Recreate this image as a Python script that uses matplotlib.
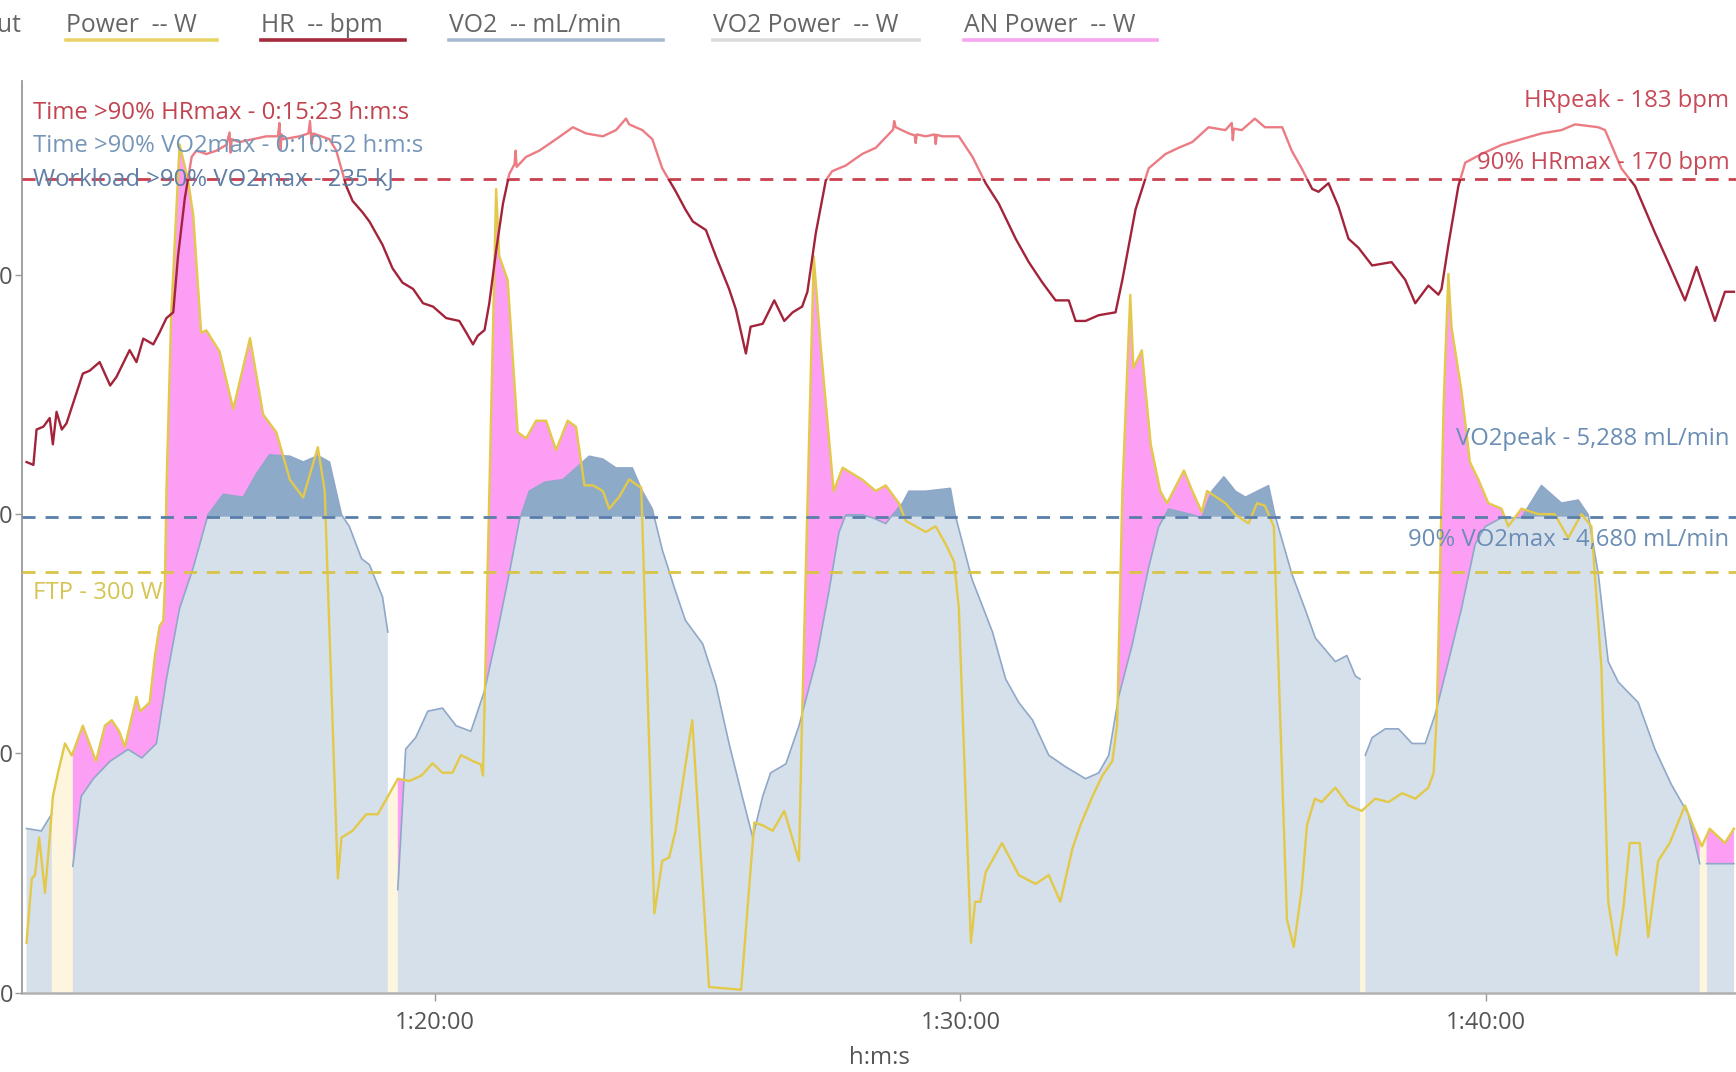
import numpy as np
import matplotlib
matplotlib.use("Agg")
import matplotlib.pyplot as plt
from matplotlib.patches import Rectangle
from matplotlib.lines import Line2D
from matplotlib.ticker import FuncFormatter, MultipleLocator
import matplotlib.transforms as mtransforms

plt.rcParams['font.family'] = ['Open Sans', 'DejaVu Sans']

# ---------------- data (time in minutes of the ride) ----------------
hr_time = [72.24, 72.37, 72.43, 72.56, 72.68, 72.74, 72.81, 72.91, 73.00, 73.31, 73.44, 73.63,
           73.83, 73.95, 74.20, 74.33, 74.46, 74.65, 74.77, 74.90, 75.03, 75.12, 75.25, 75.38,
           75.47, 75.66, 75.85, 76.04, 76.10, 76.12, 76.14, 76.29, 76.55, 76.80, 77.02, 77.05,
           77.07, 77.09, 77.12, 77.43, 77.60, 77.63, 77.66, 77.69, 78.00, 78.13,
           78.32, 78.44, 78.63, 78.76, 79.01, 79.20, 79.39, 79.59, 79.78, 79.97, 80.22, 80.47,
           80.60, 80.73, 80.82, 80.95, 81.04, 81.17, 81.30, 81.42, 81.52, 81.54, 81.56, 81.74,
           81.99, 82.31, 82.63, 82.88, 83.20, 83.45, 83.64, 83.70, 83.95, 84.14, 84.33, 84.59,
           84.77, 84.91, 85.16, 85.35, 85.60, 85.73, 85.92, 86.01, 86.24, 86.46, 86.65, 86.81,
           86.99, 87.09, 87.25, 87.44, 87.56, 87.82, 88.13, 88.39, 88.72, 88.74, 88.77, 89.02,
           89.13, 89.15, 89.17, 89.34, 89.51, 89.53, 89.55, 89.66, 89.97, 90.23,
           90.48, 90.73, 91.05, 91.30, 91.56, 91.81, 92.06, 92.19, 92.38, 92.63, 92.95, 93.08,
           93.33, 93.58, 93.90, 94.15, 94.41, 94.72, 95.04, 95.16, 95.18, 95.20, 95.35, 95.60,
           95.79, 96.12, 96.30, 96.49, 96.69, 96.81, 97.00, 97.19, 97.38, 97.57, 97.83, 98.20,
           98.46, 98.65, 98.90, 99.09, 99.15, 99.28, 99.47, 99.60, 99.91, 100.29, 100.67,
           101.05, 101.43, 101.69, 102.13, 102.26, 102.57, 102.83, 103.21, 103.46, 103.78,
           104.00, 104.35, 104.54, 104.71]
hr_bpm = [110.9, 110.3, 117.7, 118.3, 120.1, 114.6, 121.4, 117.7, 119.0, 129.4, 130.0, 131.8,
          126.9, 128.7, 134.3, 131.8, 136.7, 135.5, 138.0, 141.0, 142.2, 153.9, 166.1, 174.7,
          176.0, 175.3, 176.0, 177.2, 179.8, 175.6, 178.4, 177.8, 178.4, 179.0, 179.0, 181.8,
          176.2, 179.4, 178.4, 179.0, 179.6, 182.2, 177.4, 179.6, 178.4, 176.0,
          168.6, 165.5, 163.1, 161.2, 156.3, 151.4, 148.4, 147.1, 144.1, 143.4, 141.0, 140.4,
          138.0, 135.5, 137.3, 138.5, 144.1, 155.1, 164.9, 171.1, 173.2, 176.0, 172.6, 174.7,
          176.0, 178.4, 180.9, 179.6, 179.0, 180.3, 182.7, 181.5, 180.3, 178.4, 172.3, 167.4,
          163.7, 161.2, 159.4, 153.9, 147.1, 142.8, 133.6, 139.2, 139.8, 144.7, 140.4, 142.2,
          143.4, 146.5, 158.8, 169.8, 171.7, 172.9, 175.3, 176.6, 180.4, 182.2, 180.9, 179.6,
          179.2, 177.6, 179.4, 179.0, 179.4, 177.4, 179.3, 179.0, 179.0, 174.7,
          169.2, 164.9, 157.6, 152.7, 148.4, 144.7, 144.7, 140.4, 140.4, 141.6, 142.2, 149.0,
          163.7, 172.3, 175.3, 176.6, 177.8, 180.9, 180.3, 181.8, 178.2, 180.6, 180.3, 182.7,
          180.9, 180.9, 176.0, 172.3, 168.0, 167.4, 169.2, 164.3, 157.6, 155.7, 152.0, 152.7,
          149.0, 144.1, 147.8, 145.9, 147.1, 156.3, 168.6, 173.5, 175.3, 177.2, 178.4,
          179.6, 180.3, 181.5, 180.9, 180.3, 172.3, 168.6, 158.8, 152.7, 144.7,
          151.7, 140.4, 146.5, 146.5]

power_time = [72.24, 72.34, 72.40, 72.48, 72.59, 72.68, 72.74, 72.84, 72.97, 73.10, 73.31, 73.56,
              73.73, 73.86, 74.00, 74.11, 74.33, 74.40, 74.58, 74.68, 74.77, 74.84, 74.87, 74.90,
              74.99, 75.15, 75.31, 75.41, 75.56, 75.66, 75.91, 76.17, 76.49, 76.74, 76.99, 77.25,
              77.50, 77.78, 77.91, 78.16, 78.23, 78.44, 78.70, 78.92, 79.11, 79.30, 79.52, 79.75,
              79.96, 80.15, 80.34, 80.50, 80.73, 80.88, 80.92, 81.17, 81.23, 81.39, 81.58, 81.74,
              81.93, 82.12, 82.31, 82.53, 82.69, 82.85, 83.01, 83.20, 83.32, 83.51, 83.70, 83.86,
              83.93, 84.18, 84.33, 84.46, 84.58, 84.90, 85.22, 85.83, 86.08, 86.24, 86.43, 86.65,
              86.93, 86.99, 87.21, 87.34, 87.59, 87.76, 88.13, 88.39, 88.58, 88.83, 88.96, 89.15,
              89.34, 89.53, 89.72, 89.88, 89.97, 90.09, 90.20, 90.28, 90.38, 90.48, 90.79, 91.11,
              91.43, 91.68, 91.90, 92.13, 92.28, 92.51, 92.70, 92.89, 92.98, 93.08, 93.23, 93.29,
              93.45, 93.62, 93.80, 93.93, 94.25, 94.41, 94.59, 94.69, 95.04, 95.23, 95.48, 95.64,
              95.79, 95.96, 96.05, 96.21, 96.34, 96.49, 96.59, 96.74, 96.87, 97.13, 97.38, 97.63,
              97.89, 98.14, 98.40, 98.65, 98.90, 99.00, 99.06, 99.19, 99.28, 99.34, 99.53, 99.69,
              99.85, 100.04, 100.29, 100.42, 100.67, 100.99, 101.30, 101.56, 101.81, 102.00, 102.19,
              102.32, 102.48, 102.61, 102.73, 102.92, 103.08, 103.27, 103.49, 103.78, 103.93,
              104.10, 104.25, 104.54, 104.71]
power_w = [35.5, 81.3, 83.7, 110.5, 71.1, 110.5, 139.7, 157.1, 177.6, 168.9, 190.3, 165.0,
           190.3, 194.2, 186.3, 175.3, 210.8, 200.5, 206.8, 240.0, 261.3, 265.3, 290.5, 357.6,
           483.2, 604.7, 579.5, 554.2, 470.5, 472.1, 457.1, 416.1, 466.6, 412.1, 399.5, 365.5,
           352.9, 388.8, 357.6, 81.3, 110.5, 115.3, 127.1, 127.1, 139.7, 152.4, 150.8, 154.7,
           163.4, 156.7, 156.7, 169.3, 165.0, 162.6, 154.7, 572.9, 525.0, 508.0, 399.5, 395.1,
           407.7, 407.7, 386.8, 407.7, 403.4, 361.6, 361.6, 357.6, 345.0, 353.3, 365.8, 361.6,
           360.0, 56.4, 93.9, 96.3, 114.9, 194.2, 3.9, 2.0, 121.2, 119.2, 115.3, 129.5,
           93.9, 198.6, 525.0, 462.1, 357.6, 374.2, 365.8, 357.6, 361.6, 348.9, 336.3, 332.4,
           328.4, 332.4, 319.7, 307.1, 273.9, 148.4, 35.5, 64.7, 64.7, 85.7, 106.6, 83.7,
           77.4, 83.7, 64.7, 102.6, 119.2, 139.7, 154.7, 165.0, 190.3, 357.6, 497.4, 445.3,
           457.9, 390.8, 357.6, 348.9, 372.2, 357.6, 342.6, 357.6, 348.9, 340.7, 334.5, 348.9,
           347.1, 332.4, 232.1, 52.1, 32.4, 73.4, 119.2, 138.2, 135.8, 146.1, 133.4, 129.5,
           138.2, 135.8, 142.1, 138.2, 146.1, 156.7, 198.6, 420.0, 512.4, 474.5, 428.7, 378.2,
           365.8, 348.9, 345.0, 332.4, 345.0, 341.1, 341.1, 324.1, 341.1, 332.4, 232.1,
           64.7, 26.8, 60.8, 106.6, 106.6, 39.5, 93.9, 106.6, 133.4, 119.2,
           104.2, 116.8, 106.6, 116.8]

nan = float('nan')
vo2_time = [72.24, 72.52, 72.72, 72.92, 73.12, 73.28, 73.51, 73.83, 74.17, 74.43, 74.71, 74.90,
            75.15, 75.41, 75.69, 75.98, 76.36, 76.61, 76.86, 77.25, 77.50, 77.78, 78.00, 78.23,
            78.38, 78.61, 78.76, 79.01, 79.11, 79.20, 79.30, 79.45, 79.64, 79.87, 80.15, 80.41,
            80.69, 80.95, 81.17, 81.42, 81.61, 81.80, 82.09, 82.44, 82.69, 82.94, 83.20, 83.45,
            83.76, 83.95, 84.14, 84.33, 84.58, 84.77, 85.10, 85.35, 85.60, 85.85, 86.05, 86.24,
            86.39, 86.68, 86.93, 87.25, 87.50, 87.69, 87.82, 88.13, 88.33, 88.58, 88.71, 88.90,
            89.02, 89.34, 89.81, 89.90, 90.22, 90.61, 90.86, 91.11, 91.37, 91.68, 92.00, 92.38,
            92.63, 92.82, 93.01, 93.27, 93.58, 93.77, 93.96, 94.41, 94.59, 94.78, 95.01, 95.23,
            95.42, 95.86, 95.98, 96.30, 96.55, 96.75, 97.13, 97.35, 97.51, 97.60, 97.65, 97.70,
            97.83, 98.08, 98.33, 98.59, 98.84, 99.03, 99.28, 99.53, 99.79, 99.98, 100.29, 100.67,
            101.05, 101.43, 101.75, 101.94, 102.13, 102.32, 102.51, 102.89, 103.21, 103.52,
            103.84, 104.06, 104.12, 104.19, 104.71]
vo2_ml = [1613, 1589, 1757, nan, 1241, 1930, 2103, 2275, 2391, 2307, 2449, 3083,
          3777, 4179, 4698, 4900, 4871, 5101, 5288, 5274, 5217, 5280, 5217, 4698,
          4582, 4267, 4208, 3891, 3545, nan, 1012, 2394, 2507, 2767, 2797, 2623,
          2569, 2968, 3487, 4122, 4640, 4930, 5018, 5044, 5159, 5274, 5246, 5159,
          5159, 4930, 4756, 4354, 3949, 3660, 3428, 3026, 2449, 1930, 1526, 1930,
          2160, 2248, 2623, 3254, 3949, 4526, 4698, 4698, 4669, 4612, 4698, 4813,
          4930, 4930, 4958, 4698, 4064, 3545, 3083, 2852, 2680, 2334, 2220, 2103,
          2160, 2334, 2910, 3428, 4179, 4582, 4756, 4698, 4669, 4930, 5072, 4930,
          4871, 4985, 4698, 4122, 3777, 3487, 3254, 3314, 3113, 3083, nan, 2334,
          2507, 2593, 2593, 2449, 2449, 2737, 3254, 3777, 4410, 4582, 4669, 4669,
          4986, 4813, 4843, 4698, 4122, 3254, 3054, 2852, 2391, 2046,
          1757, 1267, nan, 1267, 1267]

HR_THRESHOLD = 170
HR_PEAK = 183
VO2_THRESHOLD = 4680
VO2_PEAK = 5288
FTP = 300
VO2_TO_W = 0.0725          # mechanical W per mL/min O2 ("VO2 Power")

legend_labels = ["Power  -- W", "HR  -- bpm", "VO2  -- mL/min", "VO2 Power  -- W", "AN Power  -- W"]

# ---------------- styling ----------------
CREAM = '#fdf5dd'
VO2_FILL = '#d6e0ea'
VO2_DARK = '#8eaac9'
PINK = '#fd9ef5'
VO2_LINE = '#8fa8c8'
POWER_LINE = '#e2c94a'
HR_DARK = '#a3243a'
HR_LIGHT = '#ec7c84'
HR_DASH = '#c9404e'
VO2_DASH = '#5a7eaa'
FTP_DASH = '#d8c448'
TXT = '#666666'

W, H = 1736, 1072
fig = plt.figure(figsize=(W / 100, H / 100), dpi=100)
ax = fig.add_axes([22.1 / W, 79.5 / H, 1 - 22.1 / W, 911.6 / H])
ax_hr = ax.twinx()

tp = np.array(power_time)
pw = np.array(power_w)
tv = np.array(vo2_time)
vw = np.array(vo2_ml, dtype=float) * VO2_TO_W
thr_w = VO2_THRESHOLD * VO2_TO_W

# common grid for the area fills
valid = ~np.isnan(vw)
grid = np.union1d(np.union1d(tp, tv[valid]), np.arange(tp[0], tp[-1], 0.004))
pg = np.interp(grid, tp, pw)
vg = np.full_like(grid, np.nan)
cuts = np.where(~valid)[0]
for seg in np.split(np.arange(len(vw)), cuts):
    seg = seg[valid[seg]]
    if len(seg) < 2:
        continue
    m = (grid >= tv[seg][0]) & (grid <= tv[seg][-1])
    vg[m] = np.interp(grid[m], tv[seg], vw[seg])

ax.fill_between(tp, 0, pw, color=CREAM, lw=0, zorder=1)
ax.fill_between(grid, 0, vg, color=VO2_FILL, lw=0, zorder=2)
with np.errstate(invalid='ignore'):
    ax.fill_between(grid, thr_w, vg, where=vg > thr_w, interpolate=True,
                    color=VO2_DARK, lw=0, zorder=3)
    ax.fill_between(grid, vg, pg, where=pg > vg, interpolate=True,
                    color=PINK, lw=0, zorder=3)
ax.plot(tv, vw, color=VO2_LINE, lw=1.2, zorder=4)
ax.plot(tp, pw, color=POWER_LINE, lw=1.7, zorder=5)

ax.axhline(thr_w, color=VO2_DASH, lw=2.0, dashes=(4.7, 3.6), zorder=6)
ax.axhline(FTP, color=FTP_DASH, lw=2.0, dashes=(4.7, 3.6), zorder=6)

XMIN, XMAX = 72.155, 104.75
ax.set_xlim(XMIN, XMAX)
ax.set_ylim(0, 650)
ax_hr.set_ylim(0, 650 / (0.78947 / 0.23148))

# HR line: dark below 90% HRmax, light above
ax_hr.axhline(HR_THRESHOLD, color=HR_DASH, lw=2.0, dashes=(4.7, 3.6), zorder=2)
for y0, h, col in [(HR_THRESHOLD, 500, HR_LIGHT), (-500, 500 + HR_THRESHOLD, HR_DARK)]:
    ln, = ax_hr.plot(hr_time, hr_bpm, color=col, lw=1.7, zorder=3)
    ln.set_clip_path(Rectangle((0, y0), 1000, h, transform=ax_hr.transData))

# axes styling
for a in (ax, ax_hr):
    for s in ('top', 'right'):
        a.spines[s].set_visible(False)
ax_hr.spines['left'].set_visible(False)
ax_hr.spines['bottom'].set_visible(False)
ax.spines['left'].set_color('#9a9a9a')
ax.spines['bottom'].set_color('#b0b0b0')
ax.spines['left'].set_linewidth(1.3)
ax.spines['bottom'].set_linewidth(1.8)
ax.tick_params(axis='y', left=False, labelleft=False)
ax_hr.yaxis.tick_left()
ax_hr.set_yticks([0, 50, 100, 150])
ax_hr.tick_params(axis='y', length=5, width=1, color='#9a9a9a', labelsize=17, labelcolor='#555555', pad=1.5)


def hms(m, pos):
    tot = int(round(m * 60))
    return f"{tot // 3600}:{(tot % 3600) // 60:02d}:{tot % 60:02d}"


ax.xaxis.set_major_locator(MultipleLocator(10))
ax.xaxis.set_major_formatter(FuncFormatter(hms))
ax.tick_params(axis='x', length=6, width=1, color='#9a9a9a', labelsize=17, labelcolor='#555555', pad=7)
ax.set_xlabel("h:m:s", fontsize=17.3, color='#555555', labelpad=8.5)

# annotations
blend = mtransforms.blended_transform_factory(ax_hr.transAxes, ax_hr.transData)
blend_p = mtransforms.blended_transform_factory(ax.transAxes, ax.transData)
FS = 17.2
ax_hr.text(0.0064, 0.9650, "Time >90% HRmax - 0:15:23 h:m:s", transform=ax_hr.transAxes,
           color='#c0434f', fontsize=FS, va='center', ha='left', zorder=10)
ax_hr.text(0.0064, 0.9286, "Time >90% VO2max - 0:10:52 h:m:s", transform=ax_hr.transAxes,
           color='#7596b8', fontsize=FS, va='center', ha='left', zorder=10)
ax_hr.text(0.0064, 0.8915, "Workload >90% VO2max - 235 kJ", transform=ax_hr.transAxes,
           color='#5f7fa6', fontsize=FS, va='center', ha='left', zorder=10)
ax_hr.annotate(f"HRpeak - {HR_PEAK} bpm", xy=(0.996, HR_PEAK), xycoords=blend, xytext=(0, 11.5),
               textcoords='offset points', ha='right', va='center', color='#c84a58', fontsize=FS)
ax_hr.annotate(f"90% HRmax - {HR_THRESHOLD} bpm", xy=(0.996, HR_THRESHOLD), xycoords=blend,
               xytext=(0, 11.5), textcoords='offset points', ha='right', va='center',
               color='#c84a58', fontsize=FS)
ax_hr.annotate(f"VO2peak - {VO2_PEAK:,} mL/min", xy=(0.996, VO2_PEAK * VO2_TO_W), xycoords=blend_p,
               xytext=(0, 11.5), textcoords='offset points', ha='right', va='center',
               color='#6a8db5', fontsize=FS)
ax_hr.annotate(f"90% VO2max - {VO2_THRESHOLD:,} mL/min", xy=(0.996, thr_w), xycoords=blend_p,
               xytext=(0, -16.5), textcoords='offset points', ha='right', va='center',
               color='#6a8db5', fontsize=FS)
ax_hr.annotate(f"FTP - {FTP} W", xy=(0.0064, FTP), xycoords=blend_p, xytext=(0, -15.5),
               textcoords='offset points', ha='left', va='center', color='#d6c453', fontsize=FS)

# custom legend at top
leg_colors = ['#e8d56a', '#a52a3b', '#a8bad2', '#dadada', '#f7a6f0']
leg_x = [(66, 217), (261, 405), (449, 663), (713, 919), (964, 1157)]
fig.text(22 / W, 1 - 26 / H, "Workout", ha='right', va='center', color=TXT, fontsize=17.8)
for lab, (x0, x1), col in zip(legend_labels, leg_x, leg_colors):
    fig.text(x0 / W, 1 - 26 / H, lab, ha='left', va='center', color=TXT, fontsize=17.8)
    fig.add_artist(Line2D([x0 / W, x1 / W], [1 - 39.5 / H, 1 - 39.5 / H], color=col, lw=2.6,
                          transform=fig.transFigure))

fig.savefig("out.png", dpi=100)
